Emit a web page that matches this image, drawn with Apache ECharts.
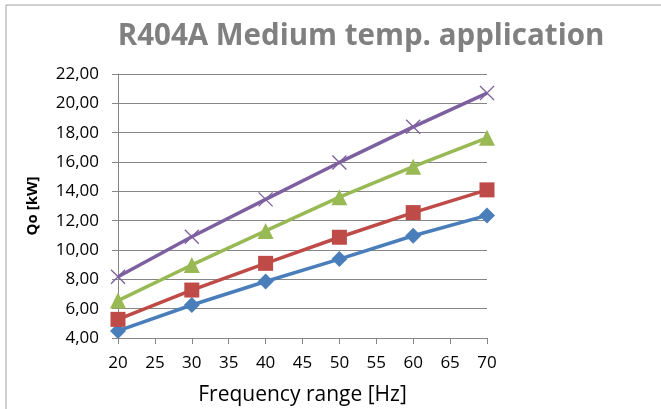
<!DOCTYPE html>
<html><head><meta charset="utf-8">
<script src="https://cdn.jsdelivr.net/npm/echarts@6/dist/echarts.min.js"></script>
<style>html,body{margin:0;padding:0;background:#fff}#c{width:661px;height:409px}</style>
</head><body><div id="c"></div>
<script>
var freq = [20, 30, 40, 50, 60, 70];
var seriesBlue = [4.48, 6.25, 7.85, 9.38, 10.97, 12.36];
var seriesRed = [5.27, 7.27, 9.09, 10.87, 12.55, 14.1];
var seriesGreen = [6.55, 8.98, 11.3, 13.6, 15.68, 17.65];
var seriesPurple = [8.18, 10.9, 13.45, 15.97, 18.4, 20.7];
var titleText = 'R404A Medium temp. application';
var xName = 'Frequency range [Hz]';
var yName = 'Qo [kW]';

function pairs(v){ return freq.map(function(f,i){ return [f, v[i]]; }); }
var font = '"Open Sans", "Noto Sans", sans-serif';
function mk(data, color, symbol, size, extra){
  var s = {type:'line', data: pairs(data), symbol: symbol, symbolSize: size,
    lineStyle:{color:color, width:3.5}, itemStyle:{color:color}, animation:false, z: 3};
  if (extra) for (var k in extra) s[k]=extra[k];
  return s;
}
var chart = echarts.init(document.getElementById('c'));
chart.setOption({
  backgroundColor:'#fff',
  animation:false,
  graphic:[{type:'rect', shape:{x:6, y:5, width:700, height:420}, style:{fill:'none', stroke:'#a0a0a0', lineWidth:1}, silent:true}],
  title:{text:titleText, left:356, textAlign:'center', top:17,
    textStyle:{fontFamily:font, fontSize:29.5, fontWeight:'bold', color:'#808080'}},
  grid:{left:118, right:174, top:74, bottom:71, containLabel:false, outerBoundsMode:'none'},
  xAxis:{type:'value', min:20, max:70, interval:5,
    name:xName, nameLocation:'middle', nameGap:47,
    nameTextStyle:{fontFamily:font, fontSize:21, color:'#000'},
    axisLine:{lineStyle:{color:'#868686', width:1}},
    axisTick:{show:true, length:6, lineStyle:{color:'#868686'}},
    axisLabel:{fontFamily:font, fontSize:17, color:'#000', margin:17},
    splitLine:{show:false}},
  yAxis:{type:'value', min:4, max:22, interval:2,
    name:yName, nameLocation:'middle', nameGap:78, nameRotate:90,
    nameTextStyle:{fontFamily:font, fontSize:15, fontWeight:'bold', color:'#000'},
    axisLine:{show:true, lineStyle:{color:'#868686', width:1}},
    axisTick:{show:true, length:6, lineStyle:{color:'#868686'}},
    axisLabel:{fontFamily:font, fontSize:17, color:'#000', margin:19,
      formatter:function(v){ return v.toFixed(2).replace('.', ','); }},
    splitLine:{show:true, lineStyle:{color:'#868686', width:1}}},
  series:[
    mk(seriesBlue, '#4a7ebb', 'diamond', 16),
    mk(seriesRed, '#be4b48', 'rect', 15),
    mk(seriesGreen, '#98b954', 'triangle', 16),
    mk(seriesPurple, '#7d60a0', 'path://M0,0L10,10M10,0L0,10', 14,
      {itemStyle:{color:'none', borderColor:'#7d60a0', borderWidth:1.3}})
  ]
});
</script></body></html>
